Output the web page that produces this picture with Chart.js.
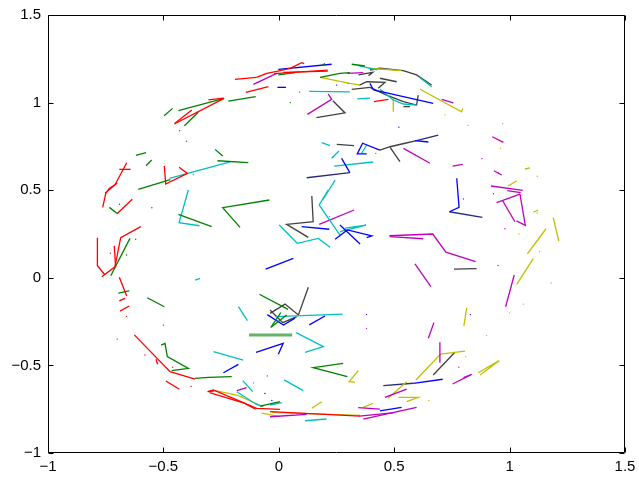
<!DOCTYPE html>
<html><head><meta charset="utf-8">
<script src="https://cdn.jsdelivr.net/npm/chart.js@4/dist/chart.umd.min.js"></script>
<style>html,body{margin:0;padding:0;background:#fff}</style></head>
<body><canvas id="c" width="639" height="478"></canvas>
<script>
const xTicks = [-1, -0.5, 0, 0.5, 1, 1.5];
const yTicks = [-1, -0.5, 0, 0.5, 1, 1.5];

// each entry is one polyline: x0,y0,x1,y1,...
const redLines = [
  [-0.190,1.133,-0.096,1.144],
  [-0.143,1.059,-0.045,1.091],
  [-0.096,1.144,-0.052,1.167,-0.009,1.178,0.049,1.196,0.099,1.228,0.110,1.222],
  [-0.020,1.165,0.212,1.185],
  [0.020,1.172,0.212,1.180],
  [-0.305,1.015,-0.240,1.025],
  [-0.453,0.878,-0.237,1.024],
  [-0.450,0.882,-0.377,0.958],
  [0.412,1.005,0.475,1.019],
  [-0.496,0.638,-0.490,0.535,-0.396,0.596,-0.432,0.631],
  [-0.753,0.482,-0.710,0.530,-0.659,0.657],
  [-0.763,0.402,-0.750,0.480,-0.735,0.510,-0.700,0.540],
  [-0.691,0.619,-0.642,0.619],
  [-0.702,0.364,-0.635,0.448],
  [-0.786,0.229,-0.786,0.069,-0.753,0.016],
  [-0.767,0.006,-0.710,0.063,-0.685,0.229,-0.598,0.292],
  [-0.713,0.182,-0.707,0.063],
  [-0.691,0.003,-0.659,-0.104],
  [-0.691,-0.132,-0.666,-0.117],
  [-0.688,-0.190,-0.648,-0.161],
  [-0.626,-0.326,-0.471,-0.536,-0.363,-0.579],
  [-0.489,-0.589,-0.431,-0.636],
  [-0.532,-0.465,-0.525,-0.494],
  [-0.308,-0.650,-0.284,-0.640,-0.182,-0.697,-0.096,-0.745,0.005,-0.751],
  [-0.300,-0.655,-0.150,-0.715,-0.100,-0.750],
  [-0.038,-0.764,0.352,-0.789]
];
const greenLines = [
  [-0.219,1.009,-0.100,1.034],
  [-0.435,0.954,-0.237,1.024],
  [-0.409,0.868,-0.349,0.945],
  [-0.497,0.925,-0.460,0.967],
  [-0.002,1.158,0.070,1.171],
  [0.186,1.211,0.200,1.223],
  [0.179,1.144,0.265,1.167,0.308,1.171],
  [0.316,1.219,0.373,1.209],
  [-0.619,0.699,-0.575,0.714],
  [-0.575,0.640,-0.551,0.672],
  [-0.276,0.733,-0.243,0.695],
  [-0.266,0.668,-0.132,0.657],
  [-0.609,0.505,-0.470,0.560],
  [-0.734,0.402,-0.702,0.368],
  [-0.728,0.012,-0.645,0.225],
  [-0.695,-0.088,-0.648,-0.075],
  [-0.570,-0.114,-0.496,-0.165],
  [-0.435,0.362,-0.291,0.292],
  [-0.041,0.444,-0.243,0.400,-0.168,0.288],
  [-0.084,-0.094,0.040,-0.180],
  [-0.031,-0.279,0.034,-0.212],
  [-0.035,-0.284,0.009,-0.198],
  [0.279,-0.488,0.149,-0.513,0.297,-0.564],
  [-0.510,-0.384,-0.493,-0.374,-0.483,-0.450,-0.392,-0.517,-0.464,-0.530],
  [-0.363,-0.574,-0.305,-0.568,-0.204,-0.564],
  [-0.081,-0.732,0.005,-0.707]
];
const paleGreenLines = [
  [-0.129,-0.327,0.058,-0.327]
];
const blueLines = [
  [-0.002,1.190,0.229,1.219],
  [-0.006,1.087,0.031,1.087],
  [0.395,1.110,0.410,1.072],
  [0.410,1.072,0.669,0.996],
  [0.381,0.707,0.340,0.707,0.363,0.768,0.438,0.729],
  [0.590,0.783,0.648,0.775],
  [0.272,0.682,0.308,0.600],
  [0.771,0.568,0.781,0.402,0.739,0.377],
  [0.099,0.292,0.219,0.277],
  [0.265,0.301,0.352,0.193],
  [0.244,0.220,0.297,0.273,0.403,0.239,0.381,0.229],
  [-0.057,0.049,0.063,0.111],
  [-0.050,-0.210,0.020,-0.270,0.070,-0.230],
  [0.132,-0.269,0.200,-0.218],
  [-0.099,-0.425,0.019,-0.374,-0.002,-0.437],
  [-0.240,-0.542,-0.175,-0.494],
  [0.583,-0.602,0.710,-0.579],
  [0.438,-0.760,0.532,-0.739]
];
const cyanLines = [
  [0.345,1.211,0.425,1.187],
  [0.610,1.143,0.663,1.090],
  [0.132,1.064,0.308,1.061],
  [0.438,1.076,0.496,1.015,0.540,0.992,0.597,0.986],
  [0.340,1.021,0.395,1.025],
  [0.186,0.771,0.222,0.754],
  [0.229,0.682,0.261,0.724],
  [0.381,0.758,0.359,0.711],
  [0.240,0.638,0.409,0.661],
  [0.190,0.444,0.244,0.558],
  [-0.474,0.568,-0.211,0.661],
  [-0.392,0.501,-0.432,0.315,-0.344,0.297],
  [0.214,0.501,0.175,0.416,0.265,0.244],
  [0.002,0.301,0.080,0.197,0.171,0.225,0.222,0.174],
  [0.265,0.263,0.378,0.301,0.287,0.283],
  [-0.363,-0.013,-0.341,-0.003],
  [-0.175,-0.165,-0.136,-0.245],
  [-0.016,-0.222,0.277,-0.207],
  [0.075,-0.313,0.193,-0.393,0.114,-0.425],
  [-0.283,-0.422,-0.154,-0.470],
  [0.023,-0.583,0.106,-0.644],
  [-0.156,-0.587,-0.113,-0.650],
  [-0.182,-0.650,-0.100,-0.720,-0.070,-0.735],
  [0.114,-0.816,0.207,-0.806],
  [-0.038,-0.726,0.013,-0.713]
];
const magentaLines = [
  [-0.110,1.104,-0.009,1.167],
  [0.297,1.167,0.366,1.171],
  [0.124,0.933,0.229,1.019,0.214,1.049],
  [0.706,1.019,0.756,0.999],
  [0.925,0.805,0.973,0.773],
  [0.540,0.739,0.655,0.654],
  [0.753,0.638,0.797,0.648],
  [0.932,0.611,0.966,0.587],
  [0.919,0.524,1.057,0.499],
  [0.990,0.497,1.048,0.486],
  [1.045,0.478,1.068,0.300,1.030,0.325],
  [0.944,0.429,1.045,0.477],
  [0.970,0.440,1.023,0.320],
  [0.175,0.305,0.326,0.387],
  [0.479,0.240,0.667,0.250,0.724,0.146,0.853,0.092],
  [0.482,0.235,0.626,0.223],
  [0.590,0.079,0.659,-0.051],
  [1.020,0.016,0.983,-0.165],
  [0.672,-0.256,0.648,-0.345],
  [0.698,-0.368,0.698,-0.485],
  [0.753,-0.606,0.836,-0.551,0.800,-0.570],
  [0.460,-0.682,0.554,-0.635],
  [0.344,-0.741,0.438,-0.749],
  [0.366,-0.806,0.597,-0.739],
  [0.350,-0.790,0.500,-0.770],
  [-0.182,-0.644,-0.139,-0.627],
  [-0.038,-0.793,0.121,-0.779]
];
const yellowLines = [
  [0.389,1.196,0.531,1.183],
  [0.179,1.144,0.308,1.110,0.352,1.100],
  [0.612,1.076,0.792,0.948,0.797,0.967],
  [0.496,1.015,0.496,0.948],
  [0.994,0.524,1.031,0.554],
  [1.067,0.621,1.088,0.628],
  [1.103,0.374,1.124,0.387],
  [1.158,0.280,1.077,0.136],
  [1.189,0.343,1.213,0.210],
  [1.103,0.111,1.031,-0.037],
  [0.814,-0.171,0.802,-0.275],
  [0.344,-0.530,0.305,-0.593,0.330,-0.595],
  [0.474,-0.688,0.554,-0.593],
  [0.594,-0.583,0.701,-0.435,0.807,-0.418],
  [0.864,-0.542,0.955,-0.473,0.872,-0.555],
  [0.518,-0.682,0.604,-0.682,0.554,-0.707],
  [0.143,-0.745,0.186,-0.707],
  [0.366,-0.739,0.409,-0.716],
  [-0.276,-0.644,-0.182,-0.669,-0.067,-0.736],
  [-0.074,-0.773,0.005,-0.793],
  [-0.030,-0.768,0.352,-0.785]
];
const darkLines = [
  [0.395,1.186,0.438,1.196,0.539,1.182,0.597,1.158,0.662,1.100],
  [0.345,1.158,0.407,1.173,0.389,1.154],
  [0.349,1.100,0.381,1.119,0.460,1.116,0.431,1.082],
  [0.438,1.139,0.511,1.119],
  [0.316,1.076,0.395,1.087],
  [0.395,1.087,0.467,1.043,0.540,1.005,0.597,0.986,0.604,1.043],
  [0.540,0.977,0.568,0.977],
  [0.163,0.914,0.287,0.941,0.234,1.011],
  [0.251,0.762,0.326,0.754],
  [0.438,0.729,0.482,0.748,0.547,0.768,0.597,0.783],
  [0.482,0.745,0.525,0.663],
  [0.143,0.467,0.149,0.320,0.034,0.305,0.128,0.231],
  [0.759,0.050,0.857,0.052],
  [-0.038,-0.203,0.027,-0.150,0.085,-0.212,0.128,-0.054],
  [-0.038,-0.184,0.017,-0.256,0.078,-0.222],
  [0.669,-0.555,0.763,-0.425],
  [-0.308,-0.650,-0.280,-0.645]
];
const navyLines = [
  [0.597,0.783,0.691,0.815],
  [0.121,0.571,0.308,0.600],
  [0.739,0.377,0.882,0.345],
  [0.453,-0.616,0.583,-0.602]
];

const redDots = [-0.40,0.78, -0.55,0.40, -0.73,0.14, -0.62,0.22, -0.66,-0.22, -0.70,-0.35, -0.58,-0.44, -0.38,-0.62, -0.46,-0.51, 0.09,1.06, -0.43,0.84, -0.05,-0.56];
const greenDots = [-0.50,-0.27, -0.66,0.13, 0.05,1.00, -0.69,0.42, -0.16,-0.68];
const blueDots = [0.25,1.10, 0.52,0.86, 0.83,-0.21, 0.38,-0.21, 0.30,1.11, -0.06,-0.66, -0.03,-0.70];
const magentaDots = [0.93,0.48, 0.98,0.28, 0.88,0.68, 0.80,0.45, 0.95,0.07, 0.78,-0.51, 0.38,-0.29, 0.95,0.60];
const yellowDots = [0.72,0.93, 0.82,0.87, 0.96,0.74, 0.97,0.88, 1.12,0.58, 1.12,0.37, 1.04,0.25, 1.13,0.15, 1.18,-0.03, 1.06,-0.15, 0.90,-0.33, 0.81,-0.45, 0.65,-0.70, 1.00,-0.20];
const cyanDots = [-0.37,0.59, 0.22,0.35, -0.11,-0.60, 0.42,0.71];

const groups = [
  [redLines,'#ff0000',1.3],[greenLines,'#008000',1.3],[paleGreenLines,'rgba(0,128,0,0.6)',3],
  [blueLines,'#0000ff',1.3],[cyanLines,'#00bfbf',1.3],[magentaLines,'#bf00bf',1.3],
  [yellowLines,'#bfbf00',1.3],[darkLines,'#404040',1.3],[navyLines,'#2a2a80',1.3]
];
const dotGroups = [[redDots,'#ff0000'],[greenDots,'#008000'],[blueDots,'#0000ff'],[magentaDots,'#bf00bf'],[yellowDots,'#bfbf00'],[cyanDots,'#00bfbf']];

const datasets = [];
for (const [lines,color,w] of groups) {
  for (const l of lines) {
    const pts = [];
    for (let i = 0; i < l.length; i += 2) pts.push({x:l[i], y:l[i+1]});
    datasets.push({type:'line', data:pts, borderColor:color, borderWidth:w, pointRadius:0, fill:false, tension:0});
  }
}
for (const [d,color] of dotGroups) {
  const pts = [];
  for (let i = 0; i < d.length; i += 2) pts.push({x:d[i], y:d[i+1]});
  datasets.push({type:'scatter', data:pts, backgroundColor:color, borderWidth:0, pointRadius:0.7});
}

const fmt = v => String(v).replace('-', '\u2212');
const font = {family:'"Liberation Sans", Arial, Helvetica, sans-serif', size:15};

const frame = {
  id:'frame',
  afterDraw(chart){
    const {ctx, chartArea:a, scales:{x,y}} = chart;
    ctx.save();
    ctx.strokeStyle = '#000'; ctx.lineWidth = 1;
    ctx.beginPath();
    const L = Math.round(a.left)+0.5, R = Math.round(a.right)-0.5, T = Math.round(a.top)+0.5, B = Math.round(a.bottom)-0.5;
    for (const v of xTicks) { const p = Math.round(x.getPixelForValue(v))+0.5;
      ctx.moveTo(p,B); ctx.lineTo(p,B-5); ctx.moveTo(p,T); ctx.lineTo(p,T+5); }
    for (const v of yTicks) { const p = Math.round(y.getPixelForValue(v))+0.5;
      ctx.moveTo(L,p); ctx.lineTo(L+5,p); ctx.moveTo(R,p); ctx.lineTo(R-5,p); }
    ctx.rect(L,T,R-L,B-T);
    ctx.stroke();
    ctx.restore();
  }
};

new Chart(document.getElementById('c'), {
  type:'scatter',
  data:{datasets},
  options:{
    responsive:false, animation:false, devicePixelRatio:1,
    layout:{padding:{top:15,right:14,left:0,bottom:0}},
    plugins:{legend:{display:false}, tooltip:{enabled:false}},
    scales:{
      x:{type:'linear', min:-1, max:1.5,
        afterBuildTicks:s=>{s.ticks = xTicks.map(v=>({value:v}));},
        afterFit:s=>{s.height = 25; s.paddingLeft = 0; s.paddingRight = 0;},
        ticks:{callback:fmt, font, color:'#000', padding:5, maxRotation:0, autoSkip:false},
        grid:{display:false, drawTicks:false}, border:{display:false}},
      y:{type:'linear', min:-1, max:1.5,
        afterBuildTicks:s=>{s.ticks = yTicks.map(v=>({value:v}));},
        afterFit:s=>{s.width = 48; s.paddingTop = 0; s.paddingBottom = 0;},
        ticks:{callback:fmt, font, color:'#000', padding:7, autoSkip:false},
        grid:{display:false, drawTicks:false}, border:{display:false}}
    }
  },
  plugins:[frame]
});
</script>
</body></html>
